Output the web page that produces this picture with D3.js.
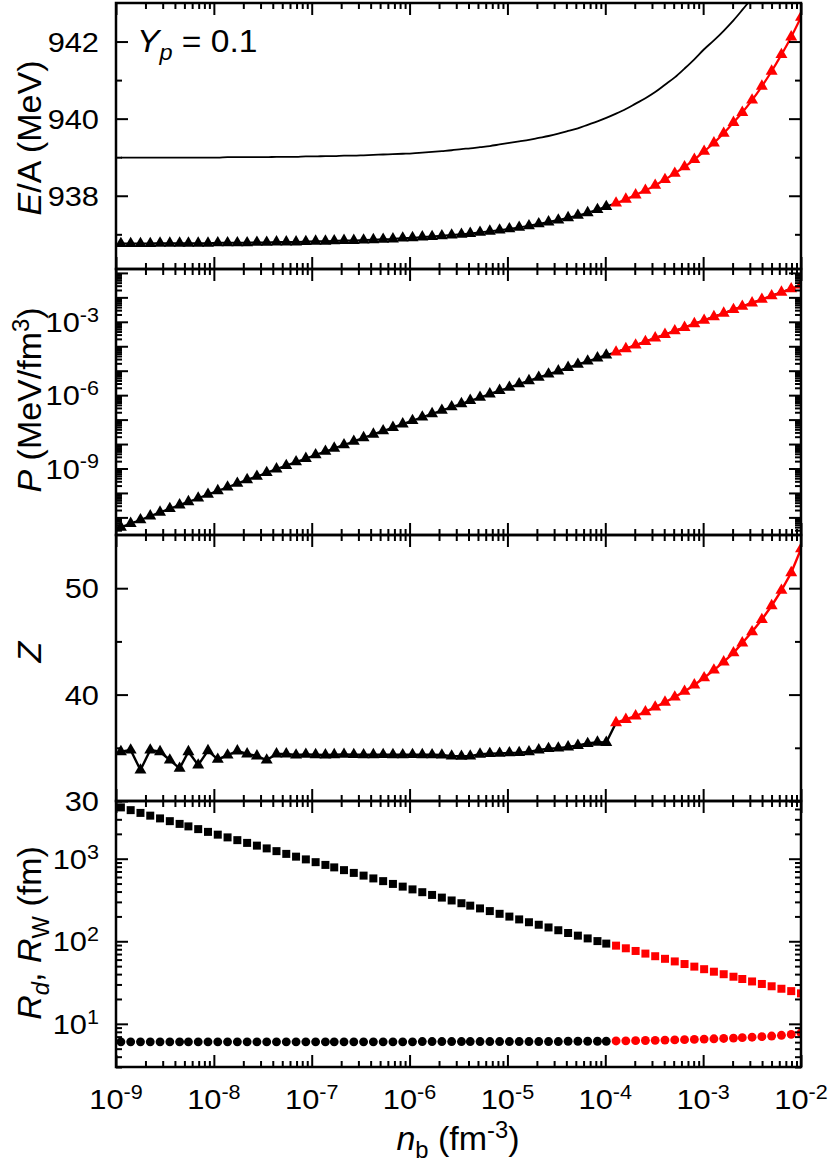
<!DOCTYPE html>
<meta charset="utf-8">
<script src="https://d3js.org/d3.v7.min.js"></script>
<style>
  body { margin: 0; background: #fff; }
  text { font-family: "Liberation Sans", Arial, Helvetica, sans-serif; fill: #000; }
</style>
<body>
<div id="viz"></div>
<script>
// log10 of baryon density n_b (fm^-3) for every computed point
const nbExp = [
  -8.95, -8.85, -8.75, -8.65, -8.55, -8.45, -8.35, -8.26, -8.16, -8.06,
  -7.96, -7.86, -7.76, -7.66, -7.56, -7.46, -7.36, -7.26, -7.16, -7.06,
  -6.96, -6.86, -6.77, -6.67, -6.57, -6.47, -6.37, -6.27, -6.17, -6.07,
  -5.97, -5.87, -5.77, -5.67, -5.57, -5.47, -5.38, -5.28, -5.18, -5.08,
  -4.98, -4.88, -4.78, -4.68, -4.58, -4.48, -4.38, -4.28, -4.18, -4.08,
  -3.99, -3.89, -3.79, -3.69, -3.59, -3.49, -3.39, -3.29, -3.19, -3.09,
  -2.99, -2.89, -2.79, -2.69, -2.60, -2.50, -2.40, -2.30, -2.20, -2.10,
  -2.00
];
// points from this index on are drawn red
const firstRed = 51;

// E/A (MeV), triangles
const eaCluster = [
  936.76, 936.76, 936.76, 936.76, 936.77, 936.77, 936.77, 936.77, 936.77, 936.77,
  936.78, 936.78, 936.78, 936.78, 936.79, 936.79, 936.80, 936.80, 936.80, 936.81,
  936.82, 936.82, 936.83, 936.84, 936.84, 936.85, 936.86, 936.87, 936.88, 936.90,
  936.91, 936.93, 936.94, 936.96, 936.98, 937.00, 937.02, 937.05, 937.08, 937.11,
  937.14, 937.18, 937.22, 937.27, 937.32, 937.37, 937.43, 937.49, 937.56, 937.64,
  937.72, 937.81, 937.91, 938.02, 938.14, 938.27, 938.42, 938.58, 938.75, 938.94,
  939.15, 939.37, 939.62, 939.90, 940.16, 940.48, 940.84, 941.23, 941.66, 942.12,
  942.63
];
// E/A (MeV), plain black curve
const eaUniform = [
  938.99, 938.99, 938.99, 938.99, 938.99, 938.99, 938.99, 938.99, 938.99, 938.99,
  938.99, 939.00, 939.00, 939.00, 939.00, 939.00, 939.01, 939.01, 939.01, 939.02,
  939.02, 939.03, 939.03, 939.04, 939.04, 939.05, 939.06, 939.07, 939.08, 939.09,
  939.10, 939.12, 939.14, 939.16, 939.18, 939.21, 939.23, 939.26, 939.29, 939.33,
  939.37, 939.41, 939.45, 939.50, 939.55, 939.61, 939.68, 939.75, 939.84, 939.93,
  940.02, 940.13, 940.25, 940.39, 940.53, 940.69, 940.88, 941.07, 941.30, 941.54,
  941.80, 942.03, 942.28, 942.55, 942.82, 943.13, 943.44, 943.76, 944.11, 944.48,
  944.88
];
// log10 of P (MeV/fm^3)
const pressureExp = [
  -11.40, -11.25, -11.10, -10.94, -10.79, -10.64, -10.49, -10.36, -10.21, -10.06,
  -9.91, -9.76, -9.61, -9.46, -9.32, -9.17, -9.02, -8.88, -8.73, -8.59,
  -8.44, -8.30, -8.17, -8.03, -7.89, -7.74, -7.60, -7.46, -7.32, -7.18,
  -7.04, -6.90, -6.76, -6.62, -6.48, -6.35, -6.22, -6.09, -5.95, -5.81,
  -5.68, -5.54, -5.41, -5.27, -5.14, -5.01, -4.87, -4.74, -4.61, -4.48,
  -4.36, -4.24, -4.10, -3.95, -3.81, -3.66, -3.52, -3.37, -3.23, -3.08,
  -2.94, -2.79, -2.65, -2.50, -2.37, -2.23, -2.08, -1.94, -1.79, -1.65,
  -1.50
];
// proton number Z
const zNuc = [
  34.63, 34.79, 32.91, 34.79, 34.63, 33.85, 33.07, 34.63, 33.38, 34.73,
  33.92, 34.32, 34.70, 34.42, 34.23, 33.85, 34.42, 34.42, 34.32, 34.38,
  34.35, 34.33, 34.35, 34.38, 34.36, 34.34, 34.35, 34.36, 34.35, 34.34,
  34.36, 34.35, 34.34, 34.32, 34.22, 34.20, 34.22, 34.40, 34.45, 34.48,
  34.52, 34.55, 34.62, 34.80, 34.92, 34.97, 35.08, 35.22, 35.40, 35.52,
  35.50, 37.36, 37.66, 37.99, 38.38, 38.82, 39.28, 39.77, 40.30, 40.90,
  41.58, 42.30, 43.07, 43.92, 44.85, 45.90, 47.05, 48.35, 49.80, 51.45,
  53.70
];
// R_W (fm), squares
const rWS = [
  4183, 3875, 3587, 3323, 3077, 2850, 2640, 2463, 2282, 2113,
  1956, 1812, 1678, 1554, 1440, 1333, 1235, 1144, 1059, 981,
  908, 841, 785, 727, 673, 624, 577, 535, 495, 459,
  425, 393, 364, 338, 312, 289, 270, 250, 232, 215,
  199, 184, 170, 158.5, 147, 136, 126, 117, 108.3, 100.5,
  93.7, 88.5, 82.2, 76.3, 70.9, 65.9, 61.3, 57.0, 53.0, 49.3,
  45.9, 42.8, 39.9, 37.2, 34.9, 32.6, 30.4, 28.5, 26.6, 24.9,
  23.4
];
// R_d (fm), circles
const rNuc = [
  6.05, 6.05, 6.05, 6.05, 6.05, 6.05, 6.05, 6.05, 6.05, 6.05,
  6.05, 6.05, 6.05, 6.05, 6.05, 6.05, 6.05, 6.05, 6.05, 6.05,
  6.05, 6.05, 6.05, 6.05, 6.05, 6.05, 6.05, 6.05, 6.05, 6.05,
  6.05, 6.10, 6.10, 6.10, 6.10, 6.10, 6.10, 6.10, 6.10, 6.10,
  6.10, 6.10, 6.10, 6.10, 6.10, 6.10, 6.15, 6.15, 6.15, 6.15,
  6.15, 6.20, 6.22, 6.25, 6.28, 6.31, 6.35, 6.39, 6.43, 6.48,
  6.53, 6.59, 6.65, 6.72, 6.80, 6.89, 6.99, 7.11, 7.26, 7.45,
  7.75
];

const xTickExp = [-9, -8, -7, -6, -5, -4, -3, -2];
const eaTicks = [938, 940, 942];
const pTickExp = [-3, -6, -9];
const zTicks = [30, 40, 50];
const rTickExp = [1, 2, 3];

const width = 830, height = 1170;
const left = 116, right = 801;
const panelH = 266;
const tops = [3, 269, 535, 801];
const RED = "#ff0000";

const svg = d3.select("#viz").append("svg")
    .attr("width", width)
    .attr("height", height);
svg.append("rect").attr("width", width).attr("height", height).attr("fill", "#fff");

const nb = nbExp.map(e => Math.pow(10, e));
const x = d3.scaleLog().domain([1e-9, 1e-2]).range([left, right]);

function logTicks(lo, hi) {
  const major = [], minor = [];
  for (let k = Math.floor(Math.log10(lo)); k <= Math.ceil(Math.log10(hi)); k++) {
    for (let m = 1; m <= 9; m++) {
      const v = m * Math.pow(10, k);
      if (v < lo * 0.999 || v > hi * 1.001) continue;
      (m === 1 ? major : minor).push(v);
    }
  }
  return {major, minor};
}

// text with italic / sub / sup pieces
function rich(g, px, py, parts, o) {
  const t = g.append("text")
      .attr("transform", `translate(${px},${py})` + (o.rotate ? ` rotate(${o.rotate})` : "")
        + (o.stretch ? ` scale(${o.stretch},1)` : ""))
      .attr("text-anchor", o.anchor || "start")
      .attr("font-size", o.size);
  let shift = 0;
  parts.forEach(p => {
    const off = p.sup ? -o.size * 0.36 : p.sub ? o.size * 0.24 : 0;
    const s = t.append("tspan").text(p.t).attr("dy", off - shift);
    if (p.sup || p.sub) s.attr("font-size", o.size * 0.7);
    if (p.it) s.attr("font-style", "italic");
    shift = off;
  });
  return t;
}

const xt = logTicks(1e-9, 1e-2);

const panels = [
  {y: d3.scaleLinear().domain([936.1, 943]), major: [938, 940, 942], minor: [937, 939, 941]},
  {y: d3.scaleLog().domain([Math.pow(10, -11.72), Math.pow(10, -0.84)])},
  {y: d3.scaleLinear().domain([30, 55]), major: [30, 40, 50], minor: [35, 45]},
  {y: d3.scaleLog().domain([3, 5000])}
];
panels.forEach((p, i) => {
  p.top = tops[i];
  p.bottom = tops[i] + panelH;
  p.y.range([p.bottom, p.top]);
  if (!p.major) {
    const [lo, hi] = p.y.domain();
    const t = logTicks(lo, hi);
    p.major = t.major; p.minor = t.minor;
  }
});

function drawAxes(p, i) {
  const g = svg.append("g").attr("class", "axes");
  const specs = [
    [d3.axisRight(p.y), `translate(${left},0)`, p.major, 12],
    [d3.axisRight(p.y), `translate(${left},0)`, p.minor, 6],
    [d3.axisLeft(p.y), `translate(${right},0)`, p.major, 12],
    [d3.axisLeft(p.y), `translate(${right},0)`, p.minor, 6],
    [d3.axisBottom(x), `translate(0,${p.top})`, xt.major, 12],
    [d3.axisBottom(x), `translate(0,${p.top})`, xt.minor, 6],
    [d3.axisTop(x), `translate(0,${p.bottom})`, xt.major, 12],
    [d3.axisTop(x), `translate(0,${p.bottom})`, xt.minor, 6]
  ];
  specs.forEach(([ax, tr, vals, len]) => {
    g.append("g").attr("transform", tr)
      .call(ax.tickValues(vals).tickSize(len).tickFormat(""))
      .call(s => s.select(".domain").remove())
      .selectAll("line").attr("stroke", "#000").attr("stroke-width", 2);
  });
  g.append("rect")
    .attr("x", left).attr("y", p.top)
    .attr("width", right - left).attr("height", panelH)
    .attr("fill", "none").attr("stroke", "#000").attr("stroke-width", 2.5);
}

function clipFor(p, i) {
  svg.append("clipPath").attr("id", "clip" + i)
    .append("rect").attr("x", left).attr("y", p.top)
    .attr("width", right - left).attr("height", panelH);
  return svg.append("g").attr("clip-path", `url(#clip${i})`);
}

const blackIdx = d3.range(0, firstRed + 1);
const blackPts = d3.range(0, firstRed);
const redIdx = d3.range(firstRed, nb.length);

function series(g, y, vals, idx, color, w) {
  g.append("path")
    .attr("d", d3.line().curve(d3.curveMonotoneX).x(i => x(nb[i])).y(i => y(vals[i]))(idx))
    .attr("fill", "none").attr("stroke", color).attr("stroke-width", w)
    .attr("stroke-linejoin", "round");
}
function markers(g, y, vals, idx, color, type, size) {
  g.selectAll(null).data(idx).join("path")
    .attr("transform", i => `translate(${x(nb[i])},${y(vals[i])})`)
    .attr("d", d3.symbol(type, size))
    .attr("fill", color);
}

const TRI = 62, SQ = 64, DOT = 62;

// panel 1: E/A
{
  const p = panels[0], g = clipFor(p, 0);
  series(g, p.y, eaUniform, d3.range(0, nb.length), "#000", 1.8);
  series(g, p.y, eaCluster, blackIdx, "#000", 2);
  markers(g, p.y, eaCluster, blackPts, "#000", d3.symbolTriangle, TRI);
  series(g, p.y, eaCluster, redIdx, RED, 2.2);
  markers(g, p.y, eaCluster, redIdx, RED, d3.symbolTriangle, TRI);
}
// panel 2: P
{
  const p = panels[1], g = clipFor(p, 1);
  const pv = pressureExp.map(e => Math.pow(10, e));
  series(g, p.y, pv, d3.range(0, nb.length), "#000", 2);
  markers(g, p.y, pv, blackPts, "#000", d3.symbolTriangle, TRI);
  series(g, p.y, pv, redIdx, RED, 2.2);
  markers(g, p.y, pv, redIdx, RED, d3.symbolTriangle, TRI);
}
// panel 3: Z
{
  const p = panels[2], g = clipFor(p, 2);
  const lin = (vals, idx, color) => g.append("path")
    .attr("d", d3.line().x(i => x(nb[i])).y(i => p.y(vals[i]))(idx))
    .attr("fill", "none").attr("stroke", color).attr("stroke-width", 2.4)
    .attr("stroke-linejoin", "round");
  lin(zNuc, blackIdx, "#000");
  markers(g, p.y, zNuc, blackPts, "#000", d3.symbolTriangle, TRI);
  lin(zNuc, redIdx, RED);
  markers(g, p.y, zNuc, redIdx, RED, d3.symbolTriangle, TRI);
}
// panel 4: R_d and R_W
{
  const p = panels[3], g = clipFor(p, 3);
  markers(g, p.y, rWS, blackPts, "#000", d3.symbolSquare, SQ);
  markers(g, p.y, rWS, redIdx, RED, d3.symbolSquare, SQ);
  markers(g, p.y, rNuc, blackPts, "#000", d3.symbolCircle, DOT);
  markers(g, p.y, rNuc, redIdx, RED, d3.symbolCircle, DOT);
}

panels.forEach(drawAxes);

// tick labels
const lab = svg.append("g");
const TS = 28, ST = 1.1;
eaTicks.forEach(v => rich(lab, 99, panels[0].y(v) + 10, [{t: String(v)}],
  {size: TS, anchor: "end", stretch: ST}));
pTickExp.forEach(e => rich(lab, 99, panels[1].y(Math.pow(10, e)) + 10,
  [{t: "10"}, {t: "-" + Math.abs(e), sup: true}], {size: TS, anchor: "end", stretch: ST}));
zTicks.forEach(v => rich(lab, 99, panels[2].y(v) + 10, [{t: String(v)}],
  {size: TS, anchor: "end", stretch: ST}));
rTickExp.forEach(e => rich(lab, 99, panels[3].y(Math.pow(10, e)) + 10,
  [{t: "10"}, {t: String(e), sup: true}], {size: TS, anchor: "end", stretch: ST}));
xTickExp.forEach(e => rich(lab, x(Math.pow(10, e)), 1109,
  [{t: "10"}, {t: "-" + Math.abs(e), sup: true}], {size: TS, anchor: "middle", stretch: ST}));

// axis titles
const AS = 34;
rich(lab, 41, 138, [{t: "E", it: true}, {t: "/A (MeV)"}], {size: AS, anchor: "middle", rotate: -90});
rich(lab, 41, 400, [{t: "P", it: true}, {t: " (MeV/fm"}, {t: "3", sup: true}, {t: ")"}],
  {size: AS, anchor: "middle", rotate: -90});
rich(lab, 41, 652, [{t: "Z", it: true}], {size: AS, anchor: "middle", rotate: -90});
rich(lab, 41, 933, [{t: "R", it: true}, {t: "d", sub: true, it: true}, {t: ", "},
  {t: "R", it: true}, {t: "W", sub: true}, {t: " (fm)"}], {size: AS, anchor: "middle", rotate: -90});
rich(lab, 458, 1150, [{t: "n", it: true}, {t: "b", sub: true}, {t: " (fm"}, {t: "-3", sup: true}, {t: ")"}],
  {size: AS, anchor: "middle"});

rich(lab, 137, 52, [{t: "Y", it: true}, {t: "p", sub: true, it: true}, {t: " = 0.1"}], {size: 32, stretch: 1.05});
</script>
</body>
